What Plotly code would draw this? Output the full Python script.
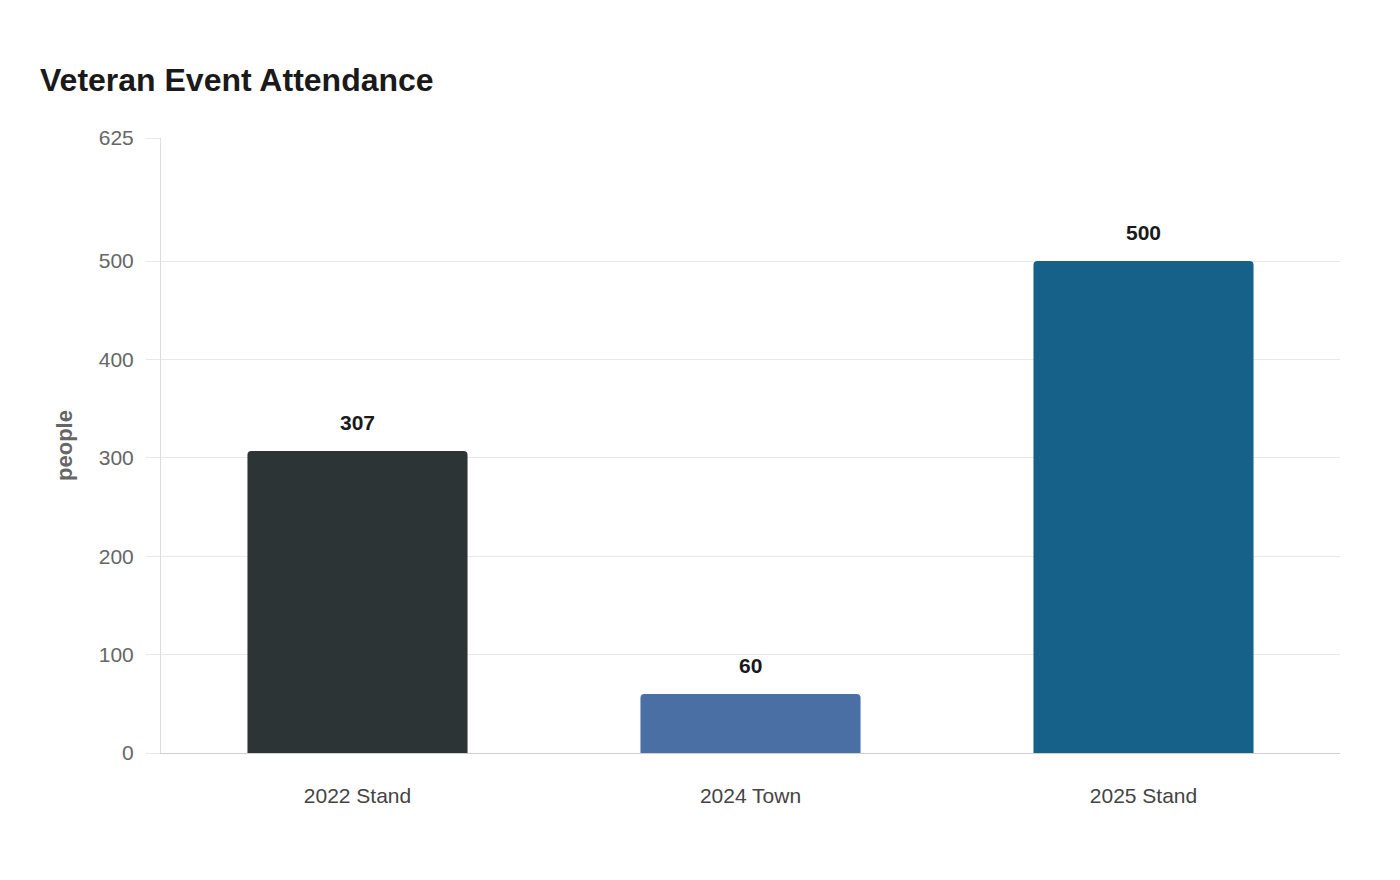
import plotly.graph_objects as go

# Chart data
events = ["2022 Stand", "2024 Town", "2025 Stand"]
attendance = [307, 60, 500]
bar_colors = ["#2d3436", "#4a6fa5", "#16618a"]
y_ticks = [0, 100, 200, 300, 400, 500, 625]

fig = go.Figure(
    go.Bar(
        x=events,
        y=attendance,
        marker=dict(color=bar_colors, cornerradius=4, line_width=0),
        hoverinfo="x+y",
    )
)

# Value labels above the bars
for ev, val in zip(events, attendance):
    fig.add_annotation(
        x=ev, y=val, text=f"<b>{val}</b>", showarrow=False,
        yanchor="bottom", yshift=15,
        font=dict(size=21, color="#1a1a1a"),
    )

fig.update_layout(
    title=dict(
        text="<b>Veteran Event Attendance</b>",
        x=32 / 1400, xref="container", xanchor="left",
        y=1 - 72 / 880, yref="container", yanchor="middle",
        font=dict(size=32, color="#1a1a1a"),
    ),
    width=1400,
    height=880,
    margin=dict(l=153, r=68, t=130, b=135),
    paper_bgcolor="white",
    plot_bgcolor="white",
    font=dict(family="Liberation Sans, Arial, sans-serif", color="#666"),
    bargap=0.44,
    showlegend=False,
    xaxis=dict(
        showline=True, linecolor="#cfcfcf", linewidth=1,
        showgrid=False,
        ticks="outside", ticklen=24, tickcolor="rgba(0,0,0,0)",
        tickfont=dict(size=21, color="#444"),
    ),
    yaxis=dict(
        range=[0, 625],
        tickvals=y_ticks,
        showgrid=True, gridcolor="#e8e8e8", gridwidth=1,
        showline=True, linecolor="#dddddd", linewidth=1,
        zeroline=False,
        ticks="outside", ticklen=14, tickcolor="#e8e8e8",
        ticklabelstandoff=8,
        tickfont=dict(size=21, color="#666"),
        title=dict(text="<b>people</b>", font=dict(size=22, color="#666"), standoff=20),
    ),
)

fig.write_html("out.html")
